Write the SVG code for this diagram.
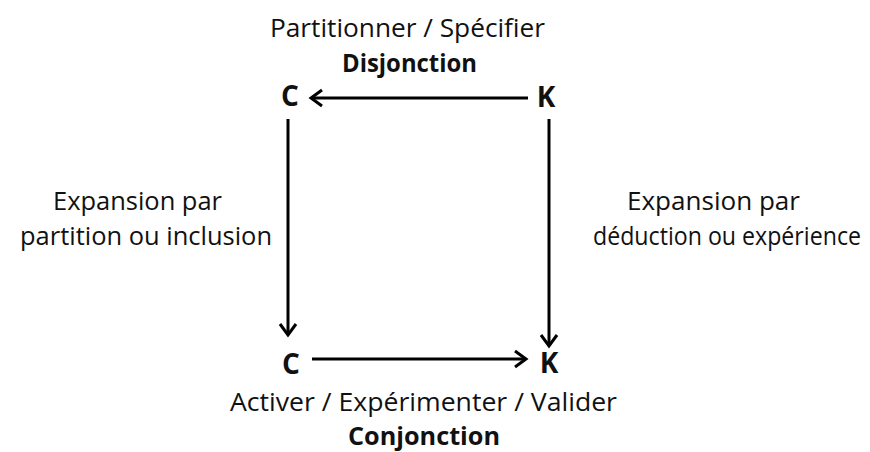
<svg xmlns="http://www.w3.org/2000/svg" width="870" height="452" viewBox="0 0 870 452">
<style>
.t{font-family:"Open Sans","Liberation Sans",sans-serif;font-size:25px;fill:#111;text-anchor:middle}
.b{font-weight:bold}
.n{font-family:"Open Sans","Liberation Sans",sans-serif;font-size:28px;font-weight:bold;fill:#111;text-anchor:middle}
.c{stroke:#000;stroke-width:3;fill:none}
</style>
<defs>
<marker id="ah" markerUnits="userSpaceOnUse" markerWidth="20" markerHeight="24" refX="13" refY="10" orient="auto">
<path d="M2,2 L13,10 L2,18" fill="none" stroke="#000" stroke-width="3"/>
</marker>
</defs>
<rect width="870" height="452" fill="#fff"/>
<g id="labels">
<text class="t" x="407.5" y="37" textLength="275" lengthAdjust="spacingAndGlyphs">Partitionner / Spécifier</text>
<text class="t b" x="409.5" y="72" textLength="135" lengthAdjust="spacingAndGlyphs">Disjonction</text>
<text class="t" x="423.5" y="411" textLength="387" lengthAdjust="spacingAndGlyphs">Activer / Expérimenter / Valider</text>
<text class="t b" x="424" y="445" textLength="152" lengthAdjust="spacingAndGlyphs">Conjonction</text>
<text class="t" x="137.5" y="210" textLength="169" lengthAdjust="spacingAndGlyphs">Expansion par</text>
<text class="t" x="146" y="245" textLength="252" lengthAdjust="spacingAndGlyphs">partition ou inclusion</text>
<text class="t" x="713.5" y="210" textLength="173" lengthAdjust="spacingAndGlyphs">Expansion par</text>
<text class="t" x="727" y="245" textLength="268" lengthAdjust="spacingAndGlyphs">déduction ou expérience</text>
</g>
<g id="node-c-top"><text class="n" x="290" y="106">C</text></g>
<g id="node-k-top"><text class="n" x="546" y="107">K</text></g>
<g id="node-c-bottom"><text class="n" x="291" y="374">C</text></g>
<g id="node-k-bottom"><text class="n" x="549" y="373">K</text></g>
<g id="connectors">
<line class="c" x1="528" y1="98" x2="311" y2="98" marker-end="url(#ah)"/>
<line class="c" x1="312" y1="359" x2="526" y2="359" marker-end="url(#ah)"/>
<line class="c" x1="288" y1="119" x2="288" y2="335" marker-end="url(#ah)"/>
<line class="c" x1="549" y1="119" x2="549" y2="346" marker-end="url(#ah)"/>
</g>
</svg>
